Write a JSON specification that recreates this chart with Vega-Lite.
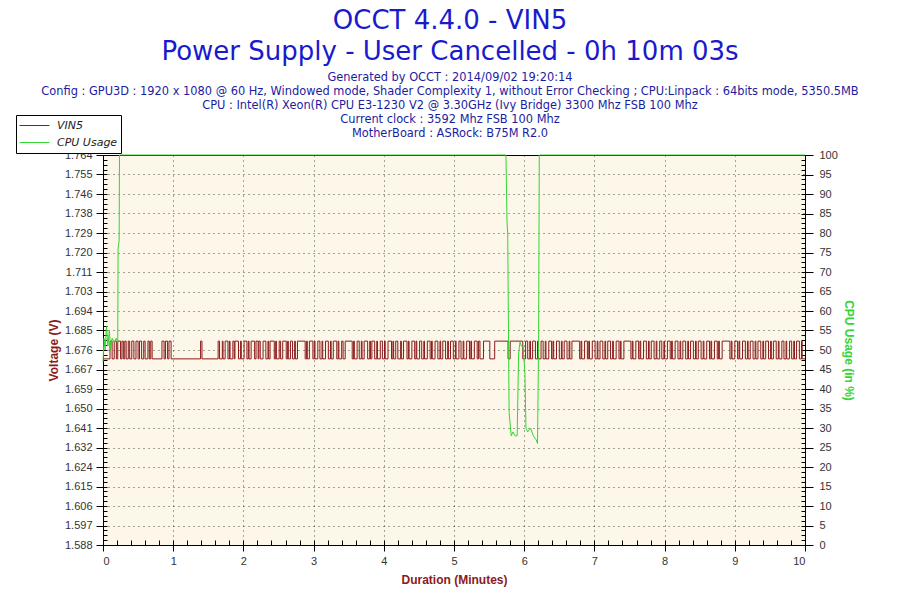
{
  "$schema": "https://vega.github.io/schema/vega-lite/v6.json",
  "width": 702,
  "height": 390,
  "autosize": {"type": "none"},
  "padding": {"left": 103, "top": 155, "right": 95, "bottom": 55},
  "background": "white",
  "config": {
    "view": {"fill": "#fcf7e9", "stroke": "#000", "strokeWidth": 1},
    "font": "Liberation Sans"
  },
  "title": {
    "text": ["OCCT 4.4.0 - VIN5", "Power Supply - User Cancelled - 0h 10m 03s"],
    "subtitle": [
      "Generated by OCCT : 2014/09/02 19:20:14",
      "Config : GPU3D : 1920 x 1080 @ 60 Hz, Windowed mode, Shader Complexity 1, without Error Checking ; CPU:Linpack : 64bits mode, 5350.5MB",
      "CPU : Intel(R) Xeon(R) CPU E3-1230 V2 @ 3.30GHz (Ivy Bridge) 3300 Mhz FSB 100 Mhz",
      "Current clock : 3592 Mhz FSB 100 Mhz",
      "MotherBoard : ASRock: B75M R2.0"
    ],
    "anchor": "middle",
    "font": "DejaVu Sans",
    "fontSize": 26,
    "fontWeight": "normal",
    "color": "#1a1acc",
    "lineHeight": 31,
    "subtitleFont": "DejaVu Sans",
    "subtitleFontSize": 11.4,
    "subtitleColor": "#1c1ca0",
    "subtitleLineHeight": 14,
    "subtitlePadding": 7,
    "offset": -25,
    "dx": -4
  },
  "datasets": {
    "vin5": [
      {"t": 0.00, "v": 1.672, "series": "VIN5"}, {"t": 0.10, "v": 1.680, "series": "VIN5"}, {"t": 0.13, "v": 1.672, "series": "VIN5"}, {"t": 0.16, "v": 1.680, "series": "VIN5"},
      {"t": 0.19, "v": 1.672, "series": "VIN5"}, {"t": 0.21, "v": 1.680, "series": "VIN5"}, {"t": 0.25, "v": 1.672, "series": "VIN5"}, {"t": 0.27, "v": 1.680, "series": "VIN5"},
      {"t": 0.29, "v": 1.672, "series": "VIN5"}, {"t": 0.31, "v": 1.680, "series": "VIN5"}, {"t": 0.33, "v": 1.672, "series": "VIN5"}, {"t": 0.36, "v": 1.680, "series": "VIN5"},
      {"t": 0.38, "v": 1.672, "series": "VIN5"}, {"t": 0.41, "v": 1.680, "series": "VIN5"}, {"t": 0.44, "v": 1.672, "series": "VIN5"}, {"t": 0.47, "v": 1.680, "series": "VIN5"},
      {"t": 0.50, "v": 1.672, "series": "VIN5"}, {"t": 0.52, "v": 1.680, "series": "VIN5"}, {"t": 0.55, "v": 1.672, "series": "VIN5"}, {"t": 0.58, "v": 1.680, "series": "VIN5"},
      {"t": 0.60, "v": 1.672, "series": "VIN5"}, {"t": 0.64, "v": 1.680, "series": "VIN5"}, {"t": 0.66, "v": 1.672, "series": "VIN5"}, {"t": 0.68, "v": 1.680, "series": "VIN5"},
      {"t": 0.70, "v": 1.672, "series": "VIN5"}, {"t": 0.84, "v": 1.680, "series": "VIN5"}, {"t": 0.87, "v": 1.672, "series": "VIN5"}, {"t": 0.89, "v": 1.680, "series": "VIN5"},
      {"t": 0.92, "v": 1.672, "series": "VIN5"}, {"t": 0.94, "v": 1.680, "series": "VIN5"}, {"t": 0.97, "v": 1.672, "series": "VIN5"}, {"t": 1.39, "v": 1.680, "series": "VIN5"},
      {"t": 1.41, "v": 1.672, "series": "VIN5"}, {"t": 1.64, "v": 1.680, "series": "VIN5"}, {"t": 1.66, "v": 1.672, "series": "VIN5"}, {"t": 1.70, "v": 1.680, "series": "VIN5"},
      {"t": 1.71, "v": 1.672, "series": "VIN5"}, {"t": 1.74, "v": 1.680, "series": "VIN5"}, {"t": 1.78, "v": 1.672, "series": "VIN5"}, {"t": 1.80, "v": 1.680, "series": "VIN5"},
      {"t": 1.81, "v": 1.672, "series": "VIN5"}, {"t": 1.85, "v": 1.680, "series": "VIN5"}, {"t": 1.87, "v": 1.672, "series": "VIN5"}, {"t": 1.88, "v": 1.680, "series": "VIN5"},
      {"t": 1.93, "v": 1.672, "series": "VIN5"}, {"t": 1.96, "v": 1.680, "series": "VIN5"}, {"t": 1.97, "v": 1.672, "series": "VIN5"}, {"t": 2.01, "v": 1.680, "series": "VIN5"},
      {"t": 2.05, "v": 1.672, "series": "VIN5"}, {"t": 2.07, "v": 1.680, "series": "VIN5"}, {"t": 2.08, "v": 1.672, "series": "VIN5"}, {"t": 2.11, "v": 1.680, "series": "VIN5"},
      {"t": 2.16, "v": 1.672, "series": "VIN5"}, {"t": 2.18, "v": 1.680, "series": "VIN5"}, {"t": 2.21, "v": 1.672, "series": "VIN5"}, {"t": 2.22, "v": 1.680, "series": "VIN5"},
      {"t": 2.24, "v": 1.672, "series": "VIN5"}, {"t": 2.28, "v": 1.680, "series": "VIN5"}, {"t": 2.32, "v": 1.672, "series": "VIN5"}, {"t": 2.35, "v": 1.680, "series": "VIN5"},
      {"t": 2.36, "v": 1.672, "series": "VIN5"}, {"t": 2.38, "v": 1.680, "series": "VIN5"}, {"t": 2.44, "v": 1.672, "series": "VIN5"}, {"t": 2.46, "v": 1.680, "series": "VIN5"},
      {"t": 2.47, "v": 1.672, "series": "VIN5"}, {"t": 2.51, "v": 1.680, "series": "VIN5"}, {"t": 2.53, "v": 1.672, "series": "VIN5"}, {"t": 2.56, "v": 1.680, "series": "VIN5"},
      {"t": 2.61, "v": 1.672, "series": "VIN5"}, {"t": 2.63, "v": 1.680, "series": "VIN5"}, {"t": 2.64, "v": 1.672, "series": "VIN5"}, {"t": 2.67, "v": 1.680, "series": "VIN5"},
      {"t": 2.70, "v": 1.672, "series": "VIN5"}, {"t": 2.73, "v": 1.680, "series": "VIN5"}, {"t": 2.74, "v": 1.672, "series": "VIN5"}, {"t": 2.77, "v": 1.680, "series": "VIN5"},
      {"t": 2.88, "v": 1.672, "series": "VIN5"}, {"t": 2.90, "v": 1.680, "series": "VIN5"}, {"t": 2.91, "v": 1.672, "series": "VIN5"}, {"t": 2.94, "v": 1.680, "series": "VIN5"},
      {"t": 2.99, "v": 1.672, "series": "VIN5"}, {"t": 3.01, "v": 1.680, "series": "VIN5"}, {"t": 3.02, "v": 1.672, "series": "VIN5"}, {"t": 3.06, "v": 1.680, "series": "VIN5"},
      {"t": 3.09, "v": 1.672, "series": "VIN5"}, {"t": 3.12, "v": 1.680, "series": "VIN5"}, {"t": 3.13, "v": 1.672, "series": "VIN5"}, {"t": 3.17, "v": 1.680, "series": "VIN5"},
      {"t": 3.21, "v": 1.672, "series": "VIN5"}, {"t": 3.24, "v": 1.680, "series": "VIN5"}, {"t": 3.25, "v": 1.672, "series": "VIN5"}, {"t": 3.28, "v": 1.680, "series": "VIN5"},
      {"t": 3.33, "v": 1.672, "series": "VIN5"}, {"t": 3.35, "v": 1.680, "series": "VIN5"}, {"t": 3.36, "v": 1.672, "series": "VIN5"}, {"t": 3.40, "v": 1.680, "series": "VIN5"},
      {"t": 3.42, "v": 1.672, "series": "VIN5"}, {"t": 3.45, "v": 1.680, "series": "VIN5"}, {"t": 3.55, "v": 1.672, "series": "VIN5"}, {"t": 3.57, "v": 1.680, "series": "VIN5"},
      {"t": 3.58, "v": 1.672, "series": "VIN5"}, {"t": 3.62, "v": 1.680, "series": "VIN5"}, {"t": 3.65, "v": 1.672, "series": "VIN5"}, {"t": 3.68, "v": 1.680, "series": "VIN5"},
      {"t": 3.69, "v": 1.672, "series": "VIN5"}, {"t": 3.72, "v": 1.680, "series": "VIN5"}, {"t": 3.77, "v": 1.672, "series": "VIN5"}, {"t": 3.80, "v": 1.680, "series": "VIN5"},
      {"t": 3.81, "v": 1.672, "series": "VIN5"}, {"t": 3.83, "v": 1.680, "series": "VIN5"}, {"t": 3.87, "v": 1.672, "series": "VIN5"}, {"t": 3.90, "v": 1.680, "series": "VIN5"},
      {"t": 3.91, "v": 1.672, "series": "VIN5"}, {"t": 3.95, "v": 1.680, "series": "VIN5"}, {"t": 3.98, "v": 1.672, "series": "VIN5"}, {"t": 4.01, "v": 1.680, "series": "VIN5"},
      {"t": 4.02, "v": 1.672, "series": "VIN5"}, {"t": 4.06, "v": 1.680, "series": "VIN5"}, {"t": 4.11, "v": 1.672, "series": "VIN5"}, {"t": 4.13, "v": 1.680, "series": "VIN5"},
      {"t": 4.14, "v": 1.672, "series": "VIN5"}, {"t": 4.17, "v": 1.680, "series": "VIN5"}, {"t": 4.20, "v": 1.672, "series": "VIN5"}, {"t": 4.24, "v": 1.680, "series": "VIN5"},
      {"t": 4.25, "v": 1.672, "series": "VIN5"}, {"t": 4.28, "v": 1.680, "series": "VIN5"}, {"t": 4.33, "v": 1.672, "series": "VIN5"}, {"t": 4.35, "v": 1.680, "series": "VIN5"},
      {"t": 4.36, "v": 1.672, "series": "VIN5"}, {"t": 4.40, "v": 1.680, "series": "VIN5"}, {"t": 4.44, "v": 1.672, "series": "VIN5"}, {"t": 4.46, "v": 1.680, "series": "VIN5"},
      {"t": 4.47, "v": 1.672, "series": "VIN5"}, {"t": 4.51, "v": 1.680, "series": "VIN5"}, {"t": 4.54, "v": 1.672, "series": "VIN5"}, {"t": 4.57, "v": 1.680, "series": "VIN5"},
      {"t": 4.58, "v": 1.672, "series": "VIN5"}, {"t": 4.62, "v": 1.680, "series": "VIN5"}, {"t": 4.66, "v": 1.672, "series": "VIN5"}, {"t": 4.68, "v": 1.680, "series": "VIN5"},
      {"t": 4.69, "v": 1.672, "series": "VIN5"}, {"t": 4.73, "v": 1.680, "series": "VIN5"}, {"t": 4.77, "v": 1.672, "series": "VIN5"}, {"t": 4.80, "v": 1.680, "series": "VIN5"},
      {"t": 4.81, "v": 1.672, "series": "VIN5"}, {"t": 4.84, "v": 1.680, "series": "VIN5"}, {"t": 4.88, "v": 1.672, "series": "VIN5"}, {"t": 4.91, "v": 1.680, "series": "VIN5"},
      {"t": 4.92, "v": 1.672, "series": "VIN5"}, {"t": 4.95, "v": 1.680, "series": "VIN5"}, {"t": 4.99, "v": 1.672, "series": "VIN5"}, {"t": 5.02, "v": 1.680, "series": "VIN5"},
      {"t": 5.03, "v": 1.672, "series": "VIN5"}, {"t": 5.07, "v": 1.680, "series": "VIN5"}, {"t": 5.10, "v": 1.672, "series": "VIN5"}, {"t": 5.13, "v": 1.680, "series": "VIN5"},
      {"t": 5.14, "v": 1.672, "series": "VIN5"}, {"t": 5.18, "v": 1.680, "series": "VIN5"}, {"t": 5.22, "v": 1.672, "series": "VIN5"}, {"t": 5.24, "v": 1.680, "series": "VIN5"},
      {"t": 5.25, "v": 1.672, "series": "VIN5"}, {"t": 5.29, "v": 1.680, "series": "VIN5"}, {"t": 5.33, "v": 1.672, "series": "VIN5"}, {"t": 5.35, "v": 1.680, "series": "VIN5"},
      {"t": 5.37, "v": 1.672, "series": "VIN5"}, {"t": 5.42, "v": 1.680, "series": "VIN5"}, {"t": 5.51, "v": 1.672, "series": "VIN5"}, {"t": 5.58, "v": 1.680, "series": "VIN5"},
      {"t": 5.77, "v": 1.672, "series": "VIN5"}, {"t": 5.80, "v": 1.680, "series": "VIN5"}, {"t": 5.98, "v": 1.672, "series": "VIN5"}, {"t": 6.02, "v": 1.680, "series": "VIN5"},
      {"t": 6.05, "v": 1.672, "series": "VIN5"}, {"t": 6.08, "v": 1.680, "series": "VIN5"}, {"t": 6.09, "v": 1.672, "series": "VIN5"}, {"t": 6.12, "v": 1.680, "series": "VIN5"},
      {"t": 6.16, "v": 1.672, "series": "VIN5"}, {"t": 6.19, "v": 1.680, "series": "VIN5"}, {"t": 6.20, "v": 1.672, "series": "VIN5"}, {"t": 6.24, "v": 1.680, "series": "VIN5"},
      {"t": 6.27, "v": 1.672, "series": "VIN5"}, {"t": 6.30, "v": 1.680, "series": "VIN5"}, {"t": 6.31, "v": 1.672, "series": "VIN5"}, {"t": 6.35, "v": 1.680, "series": "VIN5"},
      {"t": 6.39, "v": 1.672, "series": "VIN5"}, {"t": 6.41, "v": 1.680, "series": "VIN5"}, {"t": 6.42, "v": 1.672, "series": "VIN5"}, {"t": 6.46, "v": 1.680, "series": "VIN5"},
      {"t": 6.50, "v": 1.672, "series": "VIN5"}, {"t": 6.53, "v": 1.680, "series": "VIN5"}, {"t": 6.54, "v": 1.672, "series": "VIN5"}, {"t": 6.57, "v": 1.680, "series": "VIN5"},
      {"t": 6.61, "v": 1.672, "series": "VIN5"}, {"t": 6.64, "v": 1.680, "series": "VIN5"}, {"t": 6.65, "v": 1.672, "series": "VIN5"}, {"t": 6.68, "v": 1.680, "series": "VIN5"},
      {"t": 6.79, "v": 1.672, "series": "VIN5"}, {"t": 6.81, "v": 1.680, "series": "VIN5"}, {"t": 6.82, "v": 1.672, "series": "VIN5"}, {"t": 6.86, "v": 1.680, "series": "VIN5"},
      {"t": 6.90, "v": 1.672, "series": "VIN5"}, {"t": 6.92, "v": 1.680, "series": "VIN5"}, {"t": 6.93, "v": 1.672, "series": "VIN5"}, {"t": 6.97, "v": 1.680, "series": "VIN5"},
      {"t": 7.01, "v": 1.672, "series": "VIN5"}, {"t": 7.04, "v": 1.680, "series": "VIN5"}, {"t": 7.05, "v": 1.672, "series": "VIN5"}, {"t": 7.08, "v": 1.680, "series": "VIN5"},
      {"t": 7.12, "v": 1.672, "series": "VIN5"}, {"t": 7.15, "v": 1.680, "series": "VIN5"}, {"t": 7.16, "v": 1.672, "series": "VIN5"}, {"t": 7.19, "v": 1.680, "series": "VIN5"},
      {"t": 7.23, "v": 1.672, "series": "VIN5"}, {"t": 7.26, "v": 1.680, "series": "VIN5"}, {"t": 7.27, "v": 1.672, "series": "VIN5"}, {"t": 7.31, "v": 1.680, "series": "VIN5"},
      {"t": 7.35, "v": 1.672, "series": "VIN5"}, {"t": 7.37, "v": 1.680, "series": "VIN5"}, {"t": 7.38, "v": 1.672, "series": "VIN5"}, {"t": 7.42, "v": 1.680, "series": "VIN5"},
      {"t": 7.52, "v": 1.672, "series": "VIN5"}, {"t": 7.54, "v": 1.680, "series": "VIN5"}, {"t": 7.55, "v": 1.672, "series": "VIN5"}, {"t": 7.59, "v": 1.680, "series": "VIN5"},
      {"t": 7.63, "v": 1.672, "series": "VIN5"}, {"t": 7.65, "v": 1.680, "series": "VIN5"}, {"t": 7.66, "v": 1.672, "series": "VIN5"}, {"t": 7.70, "v": 1.680, "series": "VIN5"},
      {"t": 7.74, "v": 1.672, "series": "VIN5"}, {"t": 7.77, "v": 1.680, "series": "VIN5"}, {"t": 7.78, "v": 1.672, "series": "VIN5"}, {"t": 7.81, "v": 1.680, "series": "VIN5"},
      {"t": 7.85, "v": 1.672, "series": "VIN5"}, {"t": 7.88, "v": 1.680, "series": "VIN5"}, {"t": 7.89, "v": 1.672, "series": "VIN5"}, {"t": 7.93, "v": 1.680, "series": "VIN5"},
      {"t": 7.96, "v": 1.672, "series": "VIN5"}, {"t": 7.99, "v": 1.680, "series": "VIN5"}, {"t": 8.00, "v": 1.672, "series": "VIN5"}, {"t": 8.04, "v": 1.680, "series": "VIN5"},
      {"t": 8.08, "v": 1.672, "series": "VIN5"}, {"t": 8.10, "v": 1.680, "series": "VIN5"}, {"t": 8.11, "v": 1.672, "series": "VIN5"}, {"t": 8.15, "v": 1.680, "series": "VIN5"},
      {"t": 8.19, "v": 1.672, "series": "VIN5"}, {"t": 8.22, "v": 1.680, "series": "VIN5"}, {"t": 8.23, "v": 1.672, "series": "VIN5"}, {"t": 8.26, "v": 1.680, "series": "VIN5"},
      {"t": 8.30, "v": 1.672, "series": "VIN5"}, {"t": 8.33, "v": 1.680, "series": "VIN5"}, {"t": 8.34, "v": 1.672, "series": "VIN5"}, {"t": 8.37, "v": 1.680, "series": "VIN5"},
      {"t": 8.41, "v": 1.672, "series": "VIN5"}, {"t": 8.44, "v": 1.680, "series": "VIN5"}, {"t": 8.45, "v": 1.672, "series": "VIN5"}, {"t": 8.48, "v": 1.680, "series": "VIN5"},
      {"t": 8.52, "v": 1.672, "series": "VIN5"}, {"t": 8.55, "v": 1.680, "series": "VIN5"}, {"t": 8.56, "v": 1.672, "series": "VIN5"}, {"t": 8.60, "v": 1.680, "series": "VIN5"},
      {"t": 8.64, "v": 1.672, "series": "VIN5"}, {"t": 8.66, "v": 1.680, "series": "VIN5"}, {"t": 8.67, "v": 1.672, "series": "VIN5"}, {"t": 8.71, "v": 1.680, "series": "VIN5"},
      {"t": 8.75, "v": 1.672, "series": "VIN5"}, {"t": 8.77, "v": 1.680, "series": "VIN5"}, {"t": 8.78, "v": 1.672, "series": "VIN5"}, {"t": 8.82, "v": 1.680, "series": "VIN5"},
      {"t": 8.93, "v": 1.672, "series": "VIN5"}, {"t": 8.95, "v": 1.680, "series": "VIN5"}, {"t": 8.96, "v": 1.672, "series": "VIN5"}, {"t": 9.00, "v": 1.680, "series": "VIN5"},
      {"t": 9.04, "v": 1.672, "series": "VIN5"}, {"t": 9.06, "v": 1.680, "series": "VIN5"}, {"t": 9.07, "v": 1.672, "series": "VIN5"}, {"t": 9.11, "v": 1.680, "series": "VIN5"},
      {"t": 9.15, "v": 1.672, "series": "VIN5"}, {"t": 9.18, "v": 1.680, "series": "VIN5"}, {"t": 9.19, "v": 1.672, "series": "VIN5"}, {"t": 9.22, "v": 1.680, "series": "VIN5"},
      {"t": 9.26, "v": 1.672, "series": "VIN5"}, {"t": 9.29, "v": 1.680, "series": "VIN5"}, {"t": 9.30, "v": 1.672, "series": "VIN5"}, {"t": 9.33, "v": 1.680, "series": "VIN5"},
      {"t": 9.37, "v": 1.672, "series": "VIN5"}, {"t": 9.40, "v": 1.680, "series": "VIN5"}, {"t": 9.41, "v": 1.672, "series": "VIN5"}, {"t": 9.44, "v": 1.680, "series": "VIN5"},
      {"t": 9.48, "v": 1.672, "series": "VIN5"}, {"t": 9.51, "v": 1.680, "series": "VIN5"}, {"t": 9.52, "v": 1.672, "series": "VIN5"}, {"t": 9.55, "v": 1.680, "series": "VIN5"},
      {"t": 9.59, "v": 1.672, "series": "VIN5"}, {"t": 9.62, "v": 1.680, "series": "VIN5"}, {"t": 9.63, "v": 1.672, "series": "VIN5"}, {"t": 9.67, "v": 1.680, "series": "VIN5"},
      {"t": 9.70, "v": 1.672, "series": "VIN5"}, {"t": 9.73, "v": 1.680, "series": "VIN5"}, {"t": 9.74, "v": 1.672, "series": "VIN5"}, {"t": 9.78, "v": 1.680, "series": "VIN5"},
      {"t": 9.81, "v": 1.672, "series": "VIN5"}, {"t": 9.84, "v": 1.680, "series": "VIN5"}, {"t": 9.85, "v": 1.672, "series": "VIN5"}, {"t": 9.88, "v": 1.680, "series": "VIN5"},
      {"t": 9.92, "v": 1.672, "series": "VIN5"}, {"t": 9.95, "v": 1.680, "series": "VIN5"}, {"t": 9.96, "v": 1.672, "series": "VIN5"}, {"t": 10.00, "v": 1.672, "series": "VIN5"}
    ],
    "cpu": [
      {"t": 0.000, "u": 47, "series": "CPU Usage"}, {"t": 0.015, "u": 53, "series": "CPU Usage"}, {"t": 0.030, "u": 50, "series": "CPU Usage"},
      {"t": 0.050, "u": 56, "series": "CPU Usage"}, {"t": 0.070, "u": 51, "series": "CPU Usage"}, {"t": 0.090, "u": 55, "series": "CPU Usage"},
      {"t": 0.110, "u": 50, "series": "CPU Usage"}, {"t": 0.130, "u": 53, "series": "CPU Usage"}, {"t": 0.160, "u": 52, "series": "CPU Usage"},
      {"t": 0.190, "u": 53, "series": "CPU Usage"}, {"t": 0.210, "u": 52, "series": "CPU Usage"}, {"t": 0.215, "u": 76, "series": "CPU Usage"},
      {"t": 0.230, "u": 78, "series": "CPU Usage"}, {"t": 0.235, "u": 100, "series": "CPU Usage"}, {"t": 5.740, "u": 100, "series": "CPU Usage"},
      {"t": 5.755, "u": 83, "series": "CPU Usage"}, {"t": 5.765, "u": 80, "series": "CPU Usage"}, {"t": 5.785, "u": 34, "series": "CPU Usage"},
      {"t": 5.800, "u": 31, "series": "CPU Usage"}, {"t": 5.815, "u": 28, "series": "CPU Usage"}, {"t": 5.840, "u": 29, "series": "CPU Usage"},
      {"t": 5.870, "u": 28, "series": "CPU Usage"}, {"t": 5.900, "u": 28, "series": "CPU Usage"}, {"t": 5.920, "u": 49, "series": "CPU Usage"},
      {"t": 5.940, "u": 52, "series": "CPU Usage"}, {"t": 5.960, "u": 51, "series": "CPU Usage"}, {"t": 5.985, "u": 51, "series": "CPU Usage"},
      {"t": 6.010, "u": 44, "series": "CPU Usage"}, {"t": 6.025, "u": 30, "series": "CPU Usage"}, {"t": 6.050, "u": 29, "series": "CPU Usage"},
      {"t": 6.090, "u": 30, "series": "CPU Usage"}, {"t": 6.130, "u": 28, "series": "CPU Usage"}, {"t": 6.170, "u": 27, "series": "CPU Usage"},
      {"t": 6.190, "u": 26, "series": "CPU Usage"}, {"t": 6.205, "u": 52, "series": "CPU Usage"}, {"t": 6.215, "u": 100, "series": "CPU Usage"},
      {"t": 10.000, "u": 100, "series": "CPU Usage"}
    ]
  },
  "layer": [
    {
      "layer": [
        {
          "data": {"name": "vin5"},
          "mark": {"type": "line", "strokeOpacity": 0},
          "encoding": {
            "x": {
              "field": "t", "type": "quantitative",
              "scale": {"domain": [0, 10], "nice": false, "zero": false},
              "axis": {
                "orient": "bottom", "title": null, "labels": false, "domain": false, "grid": false,
                "values": [0, 0.2, 0.4, 0.6, 0.8, 1, 1.2, 1.4, 1.6, 1.8, 2, 2.2, 2.4, 2.6, 2.8, 3, 3.2, 3.4, 3.6, 3.8, 4, 4.2, 4.4, 4.6, 4.8, 5, 5.2, 5.4, 5.6, 5.8, 6, 6.2, 6.4, 6.6, 6.8, 7, 7.2, 7.4, 7.6, 7.8, 8, 8.2, 8.4, 8.6, 8.8, 9, 9.2, 9.4, 9.6, 9.8, 10],
                "tickSize": -5, "tickColor": "#000"
              }
            },
            "y": {
              "field": "v", "type": "quantitative",
              "scale": {"domain": [1.588, 1.764], "nice": false, "zero": false},
              "axis": {
                "orient": "left", "title": null, "labels": false, "domain": false, "grid": false,
                "values": [1.588, 1.5902, 1.5924, 1.5946, 1.5968, 1.599, 1.6012, 1.6034, 1.6056, 1.6078, 1.61, 1.6122, 1.6144, 1.6166, 1.6188, 1.621, 1.6232, 1.6254, 1.6276, 1.6298, 1.632, 1.6342, 1.6364, 1.6386, 1.6408, 1.643, 1.6452, 1.6474, 1.6496, 1.6518, 1.654, 1.6562, 1.6584, 1.6606, 1.6628, 1.665, 1.6672, 1.6694, 1.6716, 1.6738, 1.676, 1.6782, 1.6804, 1.6826, 1.6848, 1.687, 1.6892, 1.6914, 1.6936, 1.6958, 1.698, 1.7002, 1.7024, 1.7046, 1.7068, 1.709, 1.7112, 1.7134, 1.7156, 1.7178, 1.72, 1.7222, 1.7244, 1.7266, 1.7288, 1.731, 1.7332, 1.7354, 1.7376, 1.7398, 1.742, 1.7442, 1.7464, 1.7486, 1.7508, 1.753, 1.7552, 1.7574, 1.7596, 1.7618, 1.764],
                "tickSize": -4, "tickColor": "#000"
              }
            }
          }
        },
        {
          "data": {"name": "vin5"},
          "mark": {"type": "line", "interpolate": "step-after", "strokeWidth": 1},
          "encoding": {
            "x": {
              "field": "t", "type": "quantitative",
              "axis": {
                "orient": "bottom",
                "values": [0, 1, 2, 3, 4, 5, 6, 7, 8, 9, 10],
                "format": "d",
                "title": "Duration (Minutes)",
                "titleColor": "#8b1a1a", "titleFont": "Liberation Sans", "titleFontSize": 12, "titleFontWeight": "bold", "titlePadding": 8,
                "labelFont": "Liberation Sans", "labelFontSize": 11, "labelColor": "#333", "labelPadding": 4,
                "tickColor": "#000", "tickSize": 6, "domainColor": "#000",
                "grid": true, "gridColor": "#000", "gridDash": [1, 4], "gridOpacity": 0.7
              }
            },
            "y": {
              "field": "v", "type": "quantitative",
              "axis": {
                "orient": "left",
                "values": [1.588, 1.5968, 1.6056, 1.6144, 1.6232, 1.632, 1.6408, 1.6496, 1.6584, 1.6672, 1.676, 1.6848, 1.6936, 1.7024, 1.7112, 1.72, 1.7288, 1.7376, 1.7464, 1.7552, 1.764],
                "labelExpr": "['1.588','1.597','1.606','1.615','1.624','1.632','1.641','1.650','1.659','1.667','1.676','1.685','1.694','1.703','1.711','1.720','1.729','1.738','1.746','1.755','1.764'][round((datum.value - 1.588) / 0.0088)]",
                "title": "Voltage (V)",
                "titleColor": "#8b1a1a", "titleFont": "Liberation Sans", "titleFontSize": 12, "titleFontWeight": "bold", "titlePadding": 4,
                "labelFont": "Liberation Sans", "labelFontSize": 11, "labelColor": "#333", "labelPadding": 4,
                "tickColor": "#000", "tickSize": 7, "domainColor": "#000",
                "grid": true, "gridColor": "#000", "gridDash": [1, 4], "gridOpacity": 0.7
              }
            },
            "color": {
              "field": "series", "type": "nominal",
              "scale": {"domain": ["VIN5", "CPU Usage"], "range": ["#8b1a1a", "#33d633"]},
              "legend": {
                "title": null, "orient": "none", "legendX": -87, "legendY": -40, "direction": "vertical",
                "symbolType": "stroke", "symbolSize": 900, "symbolStrokeWidth": 1, "clipHeight": 15,
                "labelFont": "DejaVu Sans", "labelFontStyle": "italic", "labelFontSize": 11, "labelColor": "#222", "labelOffset": 7,
                "fillColor": "white", "strokeColor": "#000", "padding": 3, "rowPadding": 2
              }
            }
          }
        }
      ],
      "resolve": {"axis": {"x": "independent", "y": "independent"}}
    },
    {
      "layer": [
        {
          "data": {"name": "cpu"},
          "mark": {"type": "line", "strokeOpacity": 0},
          "encoding": {
            "x": {"field": "t", "type": "quantitative", "axis": null},
            "y": {
              "field": "u", "type": "quantitative",
              "scale": {"domain": [0, 100], "nice": false},
              "axis": {
                "orient": "right", "title": null, "labels": false, "domain": false, "grid": false,
                "values": [0, 1.25, 2.5, 3.75, 5, 6.25, 7.5, 8.75, 10, 11.25, 12.5, 13.75, 15, 16.25, 17.5, 18.75, 20, 21.25, 22.5, 23.75, 25, 26.25, 27.5, 28.75, 30, 31.25, 32.5, 33.75, 35, 36.25, 37.5, 38.75, 40, 41.25, 42.5, 43.75, 45, 46.25, 47.5, 48.75, 50, 51.25, 52.5, 53.75, 55, 56.25, 57.5, 58.75, 60, 61.25, 62.5, 63.75, 65, 66.25, 67.5, 68.75, 70, 71.25, 72.5, 73.75, 75, 76.25, 77.5, 78.75, 80, 81.25, 82.5, 83.75, 85, 86.25, 87.5, 88.75, 90, 91.25, 92.5, 93.75, 95, 96.25, 97.5, 98.75, 100],
                "tickSize": -4, "tickColor": "#000"
              }
            }
          }
        },
        {
          "data": {"name": "cpu"},
          "mark": {"type": "line", "strokeWidth": 1},
          "encoding": {
            "x": {"field": "t", "type": "quantitative", "axis": null},
            "y": {
              "field": "u", "type": "quantitative",
              "axis": {
                "orient": "right",
                "values": [0, 5, 10, 15, 20, 25, 30, 35, 40, 45, 50, 55, 60, 65, 70, 75, 80, 85, 90, 95, 100],
                "title": "CPU Usage (in %)",
                "titleColor": "#33d633", "titleFont": "Liberation Sans", "titleFontSize": 12, "titleFontWeight": "bold", "titlePadding": 4, "titleAngle": 90,
                "labelFont": "Liberation Sans", "labelFontSize": 11, "labelColor": "#333", "labelPadding": 6,
                "tickColor": "#000", "tickSize": 8, "domainColor": "#000",
                "grid": false
              }
            },
            "color": {"field": "series", "type": "nominal"}
          }
        }
      ],
      "resolve": {"axis": {"y": "independent"}}
    }
  ],
  "resolve": {"scale": {"y": "independent"}, "axis": {"x": "independent", "y": "independent"}}
}
